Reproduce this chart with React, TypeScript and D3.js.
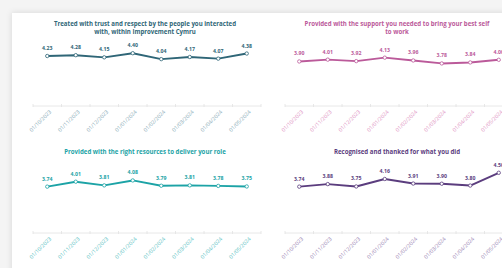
import * as React from "react";
import * as d3 from "d3";

const dates = [
  "01/10/2023",
  "01/11/2023",
  "01/12/2023",
  "01/01/2024",
  "01/02/2024",
  "01/03/2024",
  "01/04/2024",
  "01/05/2024",
];

const trustValues = [4.23, 4.28, 4.15, 4.4, 4.04, 4.17, 4.07, 4.38];
const supportValues = [3.9, 4.01, 3.92, 4.13, 3.96, 3.78, 3.84, 4.0];
const resourcesValues = [3.74, 4.01, 3.81, 4.08, 3.79, 3.81, 3.78, 3.75];
const recognisedValues = [3.74, 3.88, 3.75, 4.16, 3.91, 3.9, 3.8, 4.5];

const trustTitle = [
  "Treated with trust and respect by the people you interacted",
  "with, within Improvement Cymru",
];
const supportTitle = [
  "Provided with the support you needed to bring your best self",
  "to work",
];
const resourcesTitle = ["Provided with the right resources to deliver your role"];
const recognisedTitle = ["Recognised and thanked for what you did"];

const yDomain = [1.2, 5.2];
const FONT = "'Open Sans', 'Noto Sans', sans-serif";

const LineCard = props => {
  const { values, title, color, labelColor, left, right, titleX, titleY, axisY, topY } = props;
  const x = d3.scaleBand().domain(dates).range([left, right]).padding(0);
  const y = d3.scaleLinear().domain(yDomain).range([axisY, topY]);
  const cx = d => x(d) + x.bandwidth() / 2;
  const line = d3
    .line()
    .x((d, i) => cx(dates[i]))
    .y(d => y(d))
    .curve(d3.curveLinear);
  const fmt = d3.format(".2f");
  const ticks = dates.map(d => x(d)).concat([right]);

  return (
    <g>
      {title.map((t, i) => (
        <text
          key={i}
          x={titleX}
          y={titleY + i * 8.6}
          textAnchor="middle"
          fontFamily={FONT}
          fontWeight={700}
          fontSize={6.1}
          fill={color}
        >
          {t}
        </text>
      ))}
      <line x1={left} x2={right} y1={axisY} y2={axisY} stroke="#e2e2e2" strokeWidth={0.8} />
      {ticks.map((t, i) => (
        <line key={i} x1={t} x2={t} y1={axisY - 2} y2={axisY + 1} stroke="#e2e2e2" strokeWidth={0.8} />
      ))}
      {dates.map(d => (
        <text
          key={d}
          transform={`translate(${cx(d) + 3},${axisY + 5}) rotate(-45)`}
          textAnchor="end"
          dy="0.35em"
          fontFamily={FONT}
          fontSize={5.3}
          fill={labelColor}
        >
          {d}
        </text>
      ))}
      <path d={line(values)} fill="none" stroke={color} strokeWidth={1.9} strokeLinejoin="round" />
      {values.map((v, i) => (
        <circle key={i} cx={cx(dates[i])} cy={y(v)} r={1.7} fill="#fff" stroke={color} strokeWidth={0.8} />
      ))}
      {values.map((v, i) => (
        <text
          key={"l" + i}
          x={cx(dates[i])}
          y={y(v) - 6}
          textAnchor="middle"
          fontFamily={FONT}
          fontWeight={700}
          fontSize={5.2}
          fill={color}
        >
          {fmt(v)}
        </text>
      ))}
    </g>
  );
};

const App = () => {
  return (
    <svg
      width={502}
      height={268}
      style={{ position: "absolute", left: 0, top: 0 }}
    >
      <defs>
        <filter id="shadow" x="-10%" y="-10%" width="120%" height="120%">
          <feDropShadow dx={0} dy={0} stdDeviation={3} floodColor="#000" floodOpacity={0.12} />
        </filter>
      </defs>
      <rect width={502} height={268} fill="#f4f4f4" />
      <rect x={12} y={13} width={520} height={280} fill="#fff" filter="url(#shadow)" />
      <LineCard
        values={trustValues}
        title={trustTitle}
        color="#2f6677"
        labelColor="#86a9b5"
        left={33}
        right={261}
        titleX={145}
        titleY={25.5}
        axisY={106}
        topY={40}
      />
      <LineCard
        values={supportValues}
        title={supportTitle}
        color="#bb5a9a"
        labelColor="#de8fc1"
        left={285}
        right={513}
        titleX={397}
        titleY={25.5}
        axisY={106}
        topY={40}
      />
      <LineCard
        values={resourcesValues}
        title={resourcesTitle}
        color="#1ca3a6"
        labelColor="#55c0c2"
        left={33}
        right={261}
        titleX={145}
        titleY={153.5}
        axisY={233}
        topY={160}
      />
      <LineCard
        values={recognisedValues}
        title={recognisedTitle}
        color="#5b3d7e"
        labelColor="#9883b2"
        left={285}
        right={513}
        titleX={397}
        titleY={153.5}
        axisY={233}
        topY={160}
      />
    </svg>
  );
};

export default App;
